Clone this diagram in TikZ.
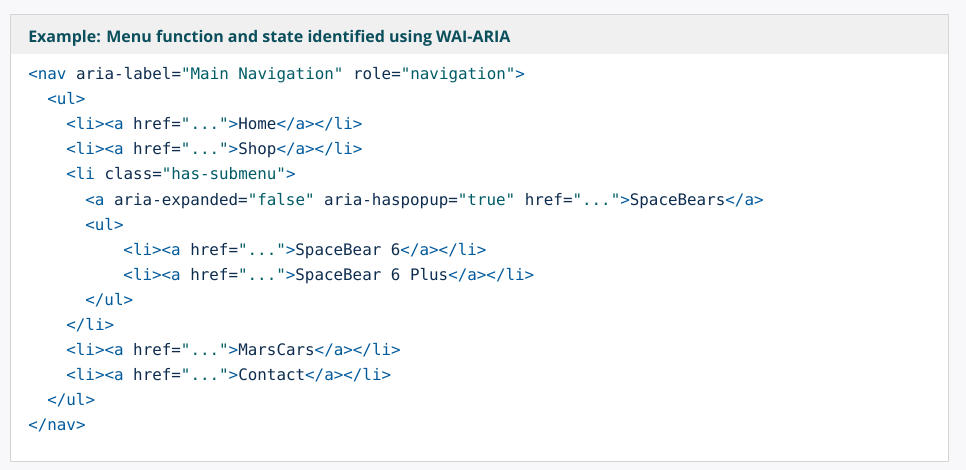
\documentclass[tikz,border=0pt]{standalone}
\usepackage{fontspec}
\setmainfont{Open Sans}
\setmonofont{DejaVu Sans Mono}
\usepackage{xcolor}
\usepackage{tikz}
\definecolor{pagebg}{HTML}{F8F8FA}
\definecolor{headgray}{HTML}{F0F0F0}
\definecolor{boxgray}{HTML}{D4D4D4}
\definecolor{headteal}{HTML}{0B4F5C}
\definecolor{tagblue}{HTML}{005A9C}
\definecolor{attrnavy}{HTML}{0E2D4F}
\definecolor{valteal}{HTML}{005C66}
\newcommand{\codetag}[1]{\textcolor{tagblue}{#1}}
\newcommand{\codeval}[1]{\textcolor{valteal}{#1}}

\begin{document}
\begin{tikzpicture}[x=0.75pt,y=-0.75pt,
    codeline/.style={anchor=base west,inner sep=0pt,text=attrnavy,
        font=\ttfamily\fontsize{11.9}{14}\selectfont}]
        \fill[pagebg] (0,0) rectangle (966,470);
        \useasboundingbox (0,0) rectangle (966,470);
        \filldraw[fill=white,draw=boxgray] (10.5,14.5) rectangle (948.5,461.5);
        \fill[headgray] (11,15) rectangle (948,54);

        \node[anchor=base west,inner sep=0pt,text=headteal,font=\bfseries\fontsize{12}{14}\selectfont] (title) at (28,43) {Example: Menu function and state identified using WAI-ARIA};

        \node[codeline] (l1) at (28,80) {\codetag{<nav} aria-label=\codeval{"Main Navigation"} role=\codeval{"navigation"}\codetag{>}};
        \node[codeline] (l2) at (47.04,105) {\codetag{<ul>}};
        \node[codeline] (l3) at (66.08,130) {\codetag{<li><a} href=\codeval{"..."}\codetag{>}Home\codetag{</a></li>}};
        \node[codeline] (l4) at (66.08,155) {\codetag{<li><a} href=\codeval{"..."}\codetag{>}Shop\codetag{</a></li>}};
        \node[codeline] (l5) at (66.08,180) {\codetag{<li} class=\codeval{"has-submenu"}\codetag{>}};
        \node[codeline] (l6) at (85.12,205) {\codetag{<a} aria-expanded=\codeval{"false"} aria-haspopup=\codeval{"true"} href=\codeval{"..."}\codetag{>}SpaceBears\codetag{</a>}};
        \node[codeline] (l7) at (85.12,230) {\codetag{<ul>}};
        \node[codeline] (l8) at (123.2,255) {\codetag{<li><a} href=\codeval{"..."}\codetag{>}SpaceBear 6\codetag{</a></li>}};
        \node[codeline] (l9) at (123.2,280) {\codetag{<li><a} href=\codeval{"..."}\codetag{>}SpaceBear 6 Plus\codetag{</a></li>}};
        \node[codeline] (l10) at (85.12,305) {\codetag{</ul>}};
        \node[codeline] (l11) at (66.08,330) {\codetag{</li>}};
        \node[codeline] (l12) at (66.08,355) {\codetag{<li><a} href=\codeval{"..."}\codetag{>}MarsCars\codetag{</a></li>}};
        \node[codeline] (l13) at (66.08,380) {\codetag{<li><a} href=\codeval{"..."}\codetag{>}Contact\codetag{</a></li>}};
        \node[codeline] (l14) at (47.04,405) {\codetag{</ul>}};
        \node[codeline] (l15) at (28,430) {\codetag{</nav>}};
    \end{tikzpicture}
\end{document}
